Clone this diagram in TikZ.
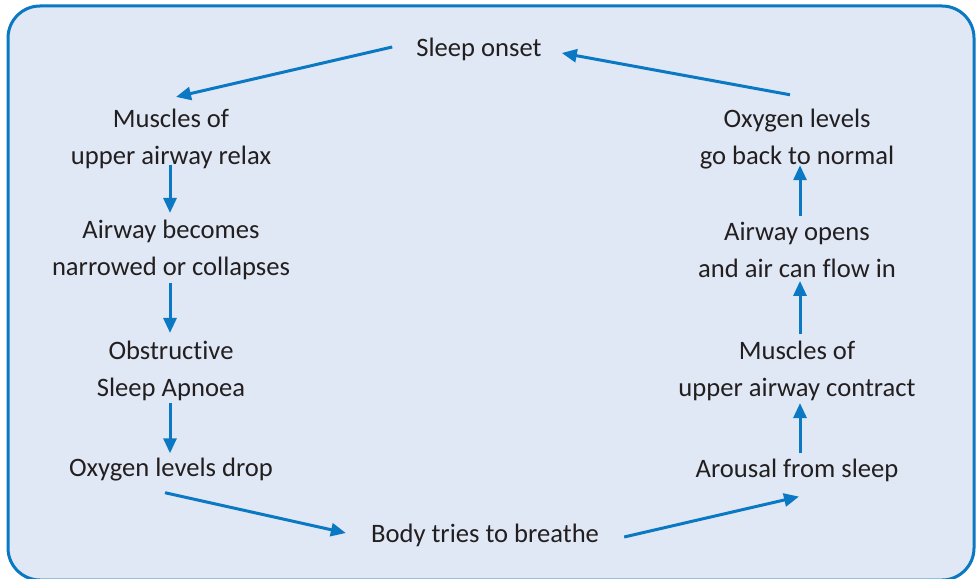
\documentclass[tikz,border=0pt]{standalone}
\usepackage{fontspec}
\setmainfont{Carlito}[Ligatures=NoCommon]
\usetikzlibrary{arrows.meta}
\definecolor{cycleblue}{HTML}{0A78C2}
\definecolor{panelfill}{HTML}{DFE8F4}
\definecolor{txtgray}{HTML}{231F20}

\begin{document}
\begin{tikzpicture}[
    x=1pt, y=-1pt,
    >={Triangle[length=15pt,width=13pt]},
    stage/.style={align=center, inner sep=0pt, text=txtgray,
                  font=\fontsize{26.6}{37}\selectfont},
    arr/.style={->, line width=3pt, draw=cycleblue, fill=cycleblue}
  ]
  \useasboundingbox (0,0) rectangle (979,578);

  %% -- panel --
  \draw[cycleblue, fill=panelfill, line width=3pt, rounded corners=32pt]
    (8,6) rectangle (974,580);

  %% -- stages --
  \node[stage] (onset)    at (479,49)  {Sleep onset};
  \node[stage] (relax)    at (171,139) {Muscles of\\upper airway relax};
  \node[stage] (narrowed) at (171,250) {Airway becomes\\narrowed or collapses};
  \node[stage] (osa)      at (171,371) {Obstructive\\Sleep Apnoea};
  \node[stage] (drop)     at (171,470) {Oxygen levels drop};
  \node[stage] (breathe)  at (485,535) {Body tries to breathe};
  \node[stage] (arousal)  at (797,470) {Arousal from sleep};
  \node[stage] (contract) at (797,371) {Muscles of\\upper airway contract};
  \node[stage] (opens)    at (797,250) {Airway opens\\and air can flow in};
  \node[stage] (normal)   at (797,139) {Oxygen levels\\go back to normal};

  %% -- left side, going down --
  \draw[arr] ([xshift=-24pt,yshift=2pt]onset.west) -- ([xshift=5pt,yshift=12pt]relax.north);
  \draw[arr, shorten <=-4pt, shorten >=7pt] ([xshift=-1pt]relax.south) -- ([xshift=-1pt]narrowed.north);
  \draw[arr, shorten <=3pt, shorten >=8pt] ([xshift=-1pt]narrowed.south) -- ([xshift=-1pt]osa.north);
  \draw[arr, shorten <=2pt, shorten >=5pt] ([xshift=-1pt]osa.south) -- ([xshift=-1pt]drop.north);

  %% -- bottom --
  \draw[arr] ([xshift=-6pt,yshift=-11pt]drop.south) -- ([xshift=-25pt,yshift=2pt]breathe.west);
  \draw[arr] ([xshift=25pt,yshift=-2pt]breathe.east) -- ([xshift=2pt,yshift=-15pt]arousal.south);

  %% -- right side, going up --
  \draw[arr, shorten <=5pt, shorten >=2pt] ([xshift=3pt]arousal.north) -- ([xshift=3pt]contract.south);
  \draw[arr, shorten <=7pt, shorten >=3pt] ([xshift=3pt]contract.north) -- ([xshift=3pt]opens.south);
  \draw[arr, shorten <=6pt, shorten >=-4pt] ([xshift=3pt]opens.north) -- ([xshift=3pt]normal.south);
  \draw[arr] ([xshift=-7pt,yshift=14pt]normal.north) -- ([xshift=20pt,yshift=-4pt]onset.east);

\end{tikzpicture}
\end{document}
